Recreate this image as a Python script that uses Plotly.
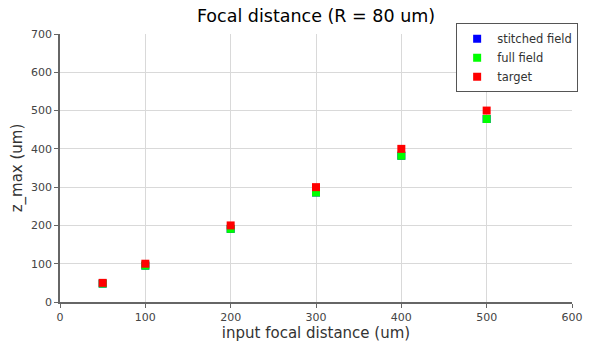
import plotly.graph_objects as go

x_vals = [50, 100, 200, 300, 400, 500]
stitched = [48, 95, 191, 286, 382, 478]
full_field = [48, 95, 191, 286, 382, 478]
target = [50, 100, 200, 300, 400, 500]

x_ticks = [0, 100, 200, 300, 400, 500, 600]
y_ticks = [0, 100, 200, 300, 400, 500, 600, 700]

font = "DejaVu Sans"
fig = go.Figure()
fig.add_trace(go.Scatter(x=x_vals, y=stitched, mode="markers", name="stitched field",
                         marker=dict(symbol="square", size=8, color="#0000ff")))
fig.add_trace(go.Scatter(x=x_vals, y=full_field, mode="markers", name="full field",
                         marker=dict(symbol="square", size=8, color="#00ff00")))
fig.add_trace(go.Scatter(x=x_vals, y=target, mode="markers", name="target",
                         marker=dict(symbol="square", size=8, color="#ff0000")))

axis_common = dict(showgrid=True, gridcolor="#d9d9d9", gridwidth=1,
                   showline=True, linecolor="#666666", linewidth=1.5,
                   ticks="outside", ticklen=4, tickcolor="#666666",
                   tickfont=dict(family=font, size=11, color="#444444"),
                   zeroline=False)
fig.update_xaxes(range=[0, 600], tickvals=x_ticks,
                 title=dict(text="input focal distance (um)", font=dict(family=font, size=15, color="#333333"), standoff=5),
                 **axis_common)
fig.update_yaxes(range=[0, 700], tickvals=y_ticks,
                 title=dict(text="z_max (um)", font=dict(family=font, size=15, color="#333333"), standoff=5),
                 **axis_common)

fig.update_layout(
    width=595, height=351,
    margin=dict(l=60, r=19, t=34, b=45),
    paper_bgcolor="white", plot_bgcolor="white",
    title=dict(text="Focal distance (R = 80 um)", xref="paper", x=0.5, xanchor="center", y=0.955, yanchor="middle",
               font=dict(family=font, size=17.5, color="black")),
    legend=dict(x=1.012, xanchor="right", y=1.04, yanchor="top",
                bordercolor="#555555", borderwidth=1, bgcolor="white",
                font=dict(family=font, size=11.5, color="#333333"),
                itemsizing="trace", tracegroupgap=0),
    showlegend=True,
)

fig.write_html("out.html")
